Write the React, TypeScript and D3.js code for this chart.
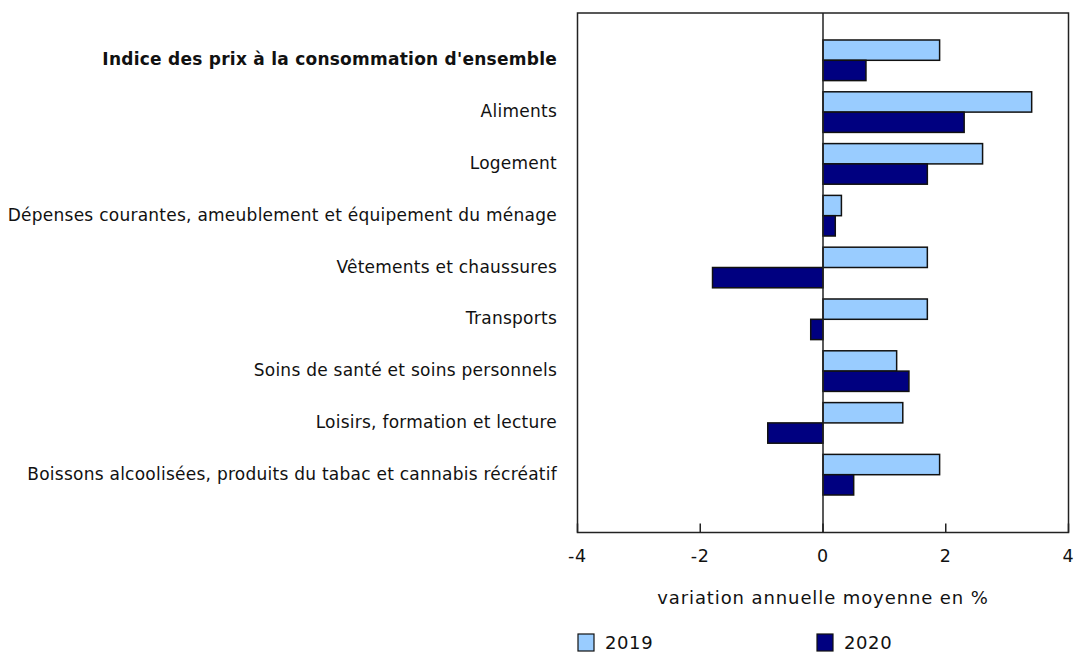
import React, { useEffect, useRef } from 'react';
import * as d3 from 'd3';

const categories = [
  "Indice des prix à la consommation d'ensemble",
  'Aliments',
  'Logement',
  'Dépenses courantes, ameublement et équipement du ménage',
  'Vêtements et chaussures',
  'Transports',
  'Soins de santé et soins personnels',
  'Loisirs, formation et lecture',
  'Boissons alcoolisées, produits du tabac et cannabis récréatif',
];
const values2019 = [1.9, 3.4, 2.6, 0.3, 1.7, 1.7, 1.2, 1.3, 1.9];
const values2020 = [0.7, 2.3, 1.7, 0.2, -1.8, -0.2, 1.4, -0.9, 0.5];
const seriesNames = ['2019', '2020'];
const seriesColors = ['#99CCFF', '#000080'];
const xTicks = [-4, -2, 0, 2, 4];
const axisTitle = 'variation annuelle moyenne en %';

export default function App() {
  const svgRef = useRef<SVGSVGElement>(null);

  useEffect(() => {
    if (!svgRef.current) return;
    const svg = d3.select(svgRef.current);
    svg.selectAll('*').remove();

    const font = 'DejaVu Sans, Verdana, sans-serif';
    const left = 577.5;
    const right = 1068.5;
    const top = 13;
    const bottom = 532.5;

    const x = d3.scaleLinear().domain([-4, 4]).range([left, right]);
    const y = d3
      .scaleBand<string>()
      .domain(categories)
      .range([34.4, 500.6])
      .paddingInner(0.216)
      .paddingOuter(0.108);
    const sub = d3.scaleBand<string>().domain(seriesNames).range([0, y.bandwidth()]);

    const data = categories.flatMap((c, i) => [
      { c, s: seriesNames[0], v: values2019[i], color: seriesColors[0] },
      { c, s: seriesNames[1], v: values2020[i], color: seriesColors[1] },
    ]);

    // cadre
    svg.append('rect')
      .attr('x', left).attr('y', top)
      .attr('width', right - left).attr('height', bottom - top)
      .attr('fill', 'none').attr('stroke', '#222').attr('stroke-width', 1.5);

    // ticks vers l'intérieur
    svg.append('g')
      .selectAll('line')
      .data(xTicks)
      .join('line')
      .attr('x1', d => x(d)).attr('x2', d => x(d))
      .attr('y1', bottom).attr('y2', bottom - 9)
      .attr('stroke', '#222').attr('stroke-width', 1.5);

    // barres
    svg.append('g')
      .selectAll('rect')
      .data(data)
      .join('rect')
      .attr('x', d => x(Math.min(0, d.v)))
      .attr('y', d => (y(d.c) ?? 0) + (sub(d.s) ?? 0))
      .attr('width', d => Math.abs(x(d.v) - x(0)))
      .attr('height', sub.bandwidth())
      .attr('fill', d => d.color)
      .attr('stroke', '#111')
      .attr('stroke-width', 1.5);

    // ligne zéro
    svg.append('line')
      .attr('x1', x(0)).attr('x2', x(0))
      .attr('y1', top).attr('y2', bottom)
      .attr('stroke', '#222').attr('stroke-width', 1.5);

    // étiquettes des catégories
    svg.append('g')
      .selectAll('text')
      .data(categories)
      .join('text')
      .attr('x', 557)
      .attr('y', d => (y(d) ?? 0) + y.bandwidth() / 2)
      .attr('dy', '0.3em')
      .attr('text-anchor', 'end')
      .attr('font-family', font)
      .attr('font-size', 17)
      .attr('letter-spacing', 0.25)
      .attr('font-weight', (d, i) => (i === 0 ? 'bold' : 'normal'))
      .attr('fill', '#111')
      .text(d => d);

    // étiquettes de l'axe x
    svg.append('g')
      .selectAll('text')
      .data(xTicks)
      .join('text')
      .attr('x', d => x(d))
      .attr('y', 562)
      .attr('text-anchor', 'middle')
      .attr('font-family', font)
      .attr('font-size', 17.5)
      .attr('letter-spacing', 0.8)
      .attr('fill', '#111')
      .text(d => String(d));

    svg.append('text')
      .attr('x', x(0))
      .attr('y', 604)
      .attr('text-anchor', 'middle')
      .attr('font-family', font)
      .attr('font-size', 18)
      .attr('letter-spacing', 0.9)
      .attr('fill', '#111')
      .text(axisTitle);

    // légende
    const legendX = [578, 817];
    const lg = svg.append('g')
      .selectAll('g')
      .data(seriesNames)
      .join('g')
      .attr('transform', (d, i) => `translate(${legendX[i]},634)`);
    lg.append('rect')
      .attr('width', 16).attr('height', 17)
      .attr('fill', (d, i) => seriesColors[i])
      .attr('stroke', '#111').attr('stroke-width', 1.2);
    lg.append('text')
      .attr('x', 27).attr('y', 15)
      .attr('font-family', font)
      .attr('font-size', 18)
      .attr('letter-spacing', 0.6)
      .attr('fill', '#111')
      .text(d => d);
  }, []);

  return (
    <svg
      ref={svgRef}
      width={1074}
      height={652}
      style={{ position: 'absolute', left: 0, top: 0, background: '#fff' }}
    />
  );
}
